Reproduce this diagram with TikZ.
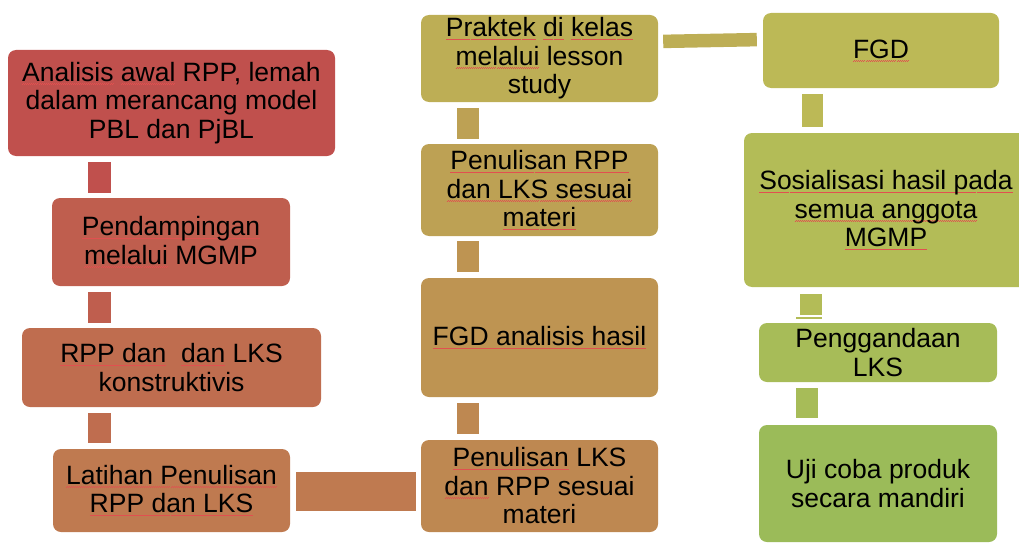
\documentclass[tikz,border=0pt]{standalone}
\usepackage{fontspec}
\setmainfont{Liberation Sans}
\definecolor{cA}{RGB}{192,80,77}
\definecolor{cB}{RGB}{191,94,78}
\definecolor{cC}{RGB}{191,109,79}
\definecolor{cD}{RGB}{191,122,80}
\definecolor{cE}{RGB}{190,136,81}
\definecolor{cF}{RGB}{190,148,82}
\definecolor{cG}{RGB}{189,161,84}
\definecolor{cH}{RGB}{189,174,85}
\definecolor{cI}{RGB}{188,185,86}
\definecolor{cJ}{RGB}{179,188,87}
\definecolor{cK}{RGB}{167,188,88}
\definecolor{cL}{RGB}{155,187,89}
\definecolor{spell}{RGB}{225,80,80}
\newcommand\sq[1]{\leavevmode\setbox0=\hbox{#1}%
  \rlap{\color{spell}\lower2.8pt\hbox to\wd0{\xleaders\hbox to 2pt{\vrule height0.45pt depth0pt width1pt\raise0.45pt\hbox{\vrule height0.45pt depth0pt width1pt}}\hfil}}%
  \box0\relax}
\tikzset{
  box/.style={rectangle, rounded corners=8pt, inner sep=0pt, align=center,
    font=\fontsize{26.5}{28.5}\selectfont, text=black},
  link/.style={line cap=butt},
}
\begin{document}
\begin{tikzpicture}[x=1pt,y=-1pt]
\useasboundingbox (0,0) rectangle (1019,543);
\clip (0,0) rectangle (1019,543);
% column 1
\node[box, fill=cA, minimum width=327pt, minimum height=106pt] (b1) at (171.5,103)
  {\sq{Analisis} \sq{awal} RPP, lemah\\dalam merancang model\\PBL dan PjBL};
\node[box, fill=cB, minimum width=238pt, minimum height=88pt] (b2) at (171,242)
  {\sq{Pendampingan}\\\sq{melalui} MGMP};
\node[box, fill=cC, minimum width=299pt, minimum height=79pt] (b3) at (171.5,367.5)
  {\sq{RPP dan}\ \ \sq{dan} LKS\\konstruktivis};
\node[box, fill=cD, minimum width=237pt, minimum height=83pt] (b4) at (171.5,490.5)
  {\sq{Latihan Penulisan}\\\sq{RPP dan LKS}};
% column 2
\node[box, fill=cE, minimum width=237pt, minimum height=92pt] (b5) at (539.5,486)
  {\sq{Penulisan} LKS\\\sq{dan} RPP sesuai\\materi};
\node[box, fill=cF, minimum width=237pt, minimum height=119pt] (b6) at (539.5,337.5)
  {\sq{FGD analisis hasil}};
\node[box, fill=cG, minimum width=237pt, minimum height=92pt] (b7) at (539.5,190)
  {\sq{Penulisan RPP}\\\sq{dan LKS sesuai}\\\sq{materi}};
\node[box, fill=cH, minimum width=237pt, minimum height=87pt] (b8) at (539.5,58.5)
  {\sq{Praktek} \sq{di} \sq{kelas}\\\sq{melalui} lesson\\study};
% column 3
\node[box, fill=cI, minimum width=236pt, minimum height=75pt] (b9) at (881,50.5)
  {\sq{FGD}};
\node[box, fill=cJ, minimum width=284pt, minimum height=154pt] (b10) at (886,210)
  {\sq{Sosialisasi hasil pada}\\\sq{semua anggota}\\\sq{MGMP}};
\node[box, fill=cK, minimum width=238pt, minimum height=59pt] (b11) at (878,352.5)
  {Penggandaan\\LKS};
\node[box, fill=cL, minimum width=238pt, minimum height=117pt] (b12) at (878,483.5)
  {Uji coba produk\\secara mandiri};
% connector guides
\coordinate (xL) at (99.5,0);
\coordinate (xM) at (468,0);
\coordinate (xR1) at (812.5,0);
\coordinate (xR2) at (811,0);
\coordinate (xR3) at (807,0);
\coordinate (yA) at (0,491.5);
\coordinate (yB1) at (0,41.5);
\coordinate (yB2) at (0,39.5);
% connectors
\draw[link, cA, line width=23pt, shorten <=6pt, shorten >=5pt] (b1.south -| xL) -- (b2.north -| xL);
\draw[link, cB, line width=23pt, shorten <=6pt, shorten >=5pt] (b2.south -| xL) -- (b3.north -| xL);
\draw[link, cC, line width=23pt, shorten <=6pt, shorten >=6pt] (b3.south -| xL) -- (b4.north -| xL);
\draw[link, cD, line width=39pt, shorten <=6pt, shorten >=5pt] (b4.east |- yA) -- (b5.west |- yA);
\draw[link, cE, line width=22pt, shorten <=6pt, shorten >=6pt] (b5.north -| xM) -- (b6.south -| xM);
\draw[link, cF, line width=22pt, shorten <=6pt, shorten >=5pt] (b6.north -| xM) -- (b7.south -| xM);
\draw[link, cG, line width=22pt, shorten <=5pt, shorten >=6pt] (b7.north -| xM) -- (b8.south -| xM);
\draw[link, cH, line width=13.5pt, shorten <=5pt, shorten >=6pt] (b8.east |- yB1) -- (b9.west |- yB2);
\draw[link, cI, line width=21pt, shorten <=6pt, shorten >=6pt] (b9.south -| xR1) -- (b10.north -| xR1);
\draw[link, cJ, line width=22pt, shorten <=7pt, shorten >=8pt] (b10.south -| xR2) -- (b11.north -| xR2);
\draw[cJ, line width=1.2pt] (796,318) -- (822,318);
\draw[link, cK, line width=22pt, shorten <=6pt, shorten >=7pt] (b11.south -| xR3) -- (b12.north -| xR3);
\end{tikzpicture}
\end{document}
